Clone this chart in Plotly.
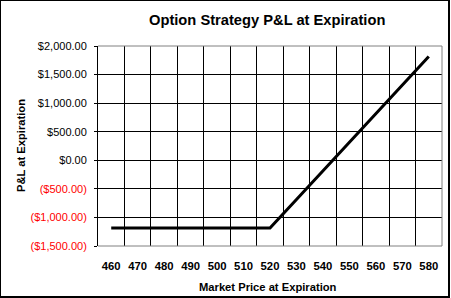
import plotly.graph_objects as go

prices = ["460", "470", "480", "490", "500", "510", "520", "530", "540", "550", "560", "570", "580"]
pnl = [-1185, -1185, -1185, -1185, -1185, -1185, -1185, -685, -185, 315, 815, 1315, 1815]
y_tickvals = [2000, 1500, 1000, 500, 0, -500, -1000, -1500]
y_ticktext = ["$2,000.00", "$1,500.00", "$1,000.00", "$500.00", "$0.00",
              "<span style='color:#ff0000'>($500.00)</span>",
              "<span style='color:#ff0000'>($1,000.00)</span>",
              "<span style='color:#ff0000'>($1,500.00)</span>"]

W, H = 451, 298
L, R, T, B = 98, 9, 46, 52
pw, ph = W - L - R, H - T - B

def px_x(p):
    return (p - L) / pw

def px_y(p):
    return (H - B - p) / ph

FONT = "Liberation Sans, Arial, sans-serif"

fig = go.Figure()
fig.add_trace(go.Scatter(x=prices, y=pnl, mode="lines",
                         line=dict(color="black", width=3), hoverinfo="skip"))

fig.update_layout(
    width=W, height=H,
    margin=dict(l=L, r=R, t=T, b=B, pad=0),
    paper_bgcolor="white", plot_bgcolor="white",
    showlegend=False,
    font=dict(family=FONT, size=11, color="black"),
    xaxis=dict(type="category", range=[-0.5, 12.5], tickson="boundaries",
               showgrid=True, gridcolor="black", gridwidth=1,
               ticks="", showline=False, zeroline=False, tickangle=0,
               tickfont=dict(family=FONT, size=11.3, color="black", weight="bold"),
               ticklabelstandoff=12),
    yaxis=dict(range=[-1500, 2000], tickvals=y_tickvals, ticktext=y_ticktext,
               showgrid=True, gridcolor="black", gridwidth=1,
               zeroline=False, showline=True, linecolor="black", linewidth=1,
               ticks="outside", ticklen=3, tickcolor="black",
               tickfont=dict(family=FONT, size=11, color="black"),
               ticklabelstandoff=5),
)

shapes = []
# gray plot border: top, right, bottom
for (x0, y0, x1, y1) in [(0, 1, 1, 1), (1, 0, 1, 1), (0, 0, 1, 0)]:
    shapes.append(dict(type="line", xref="paper", yref="paper", x0=x0, y0=y0, x1=x1, y1=y1,
                       line=dict(color="#808080", width=1), layer="above"))
# outer black frame
shapes.append(dict(type="line", xref="paper", yref="paper", x0=px_x(0.5), x1=px_x(0.5),
                   y0=px_y(0), y1=px_y(297), line=dict(color="black", width=1), layer="above"))
shapes.append(dict(type="line", xref="paper", yref="paper", x0=px_x(0), x1=px_x(450),
                   y0=px_y(0.5), y1=px_y(0.5), line=dict(color="black", width=1), layer="above"))
shapes.append(dict(type="line", xref="paper", yref="paper", x0=px_x(449), x1=px_x(449),
                   y0=px_y(0), y1=px_y(298), line=dict(color="black", width=2), layer="above"))
shapes.append(dict(type="line", xref="paper", yref="paper", x0=px_x(0), x1=px_x(450),
                   y0=px_y(297), y1=px_y(297), line=dict(color="black", width=2), layer="above"))
fig.update_layout(shapes=shapes)

fig.add_annotation(text="<b>Option Strategy P&L at Expiration</b>", xref="paper", yref="paper",
                   x=px_x(267), y=px_y(20), xanchor="center", yanchor="middle", showarrow=False,
                   font=dict(family=FONT, size=14.7, color="black"))
fig.add_annotation(text="<b>Market Price at Expiration</b>", xref="paper", yref="paper",
                   x=px_x(268), y=px_y(287), xanchor="center", yanchor="middle", showarrow=False,
                   font=dict(family=FONT, size=11.2, color="black"))
fig.add_annotation(text="<b>P&L at Expiration</b>", xref="paper", yref="paper",
                   x=px_x(21), y=px_y(146), xanchor="center", yanchor="middle", showarrow=False,
                   textangle=-90, font=dict(family=FONT, size=11.2, color="black"))

fig.write_html("out.html")
